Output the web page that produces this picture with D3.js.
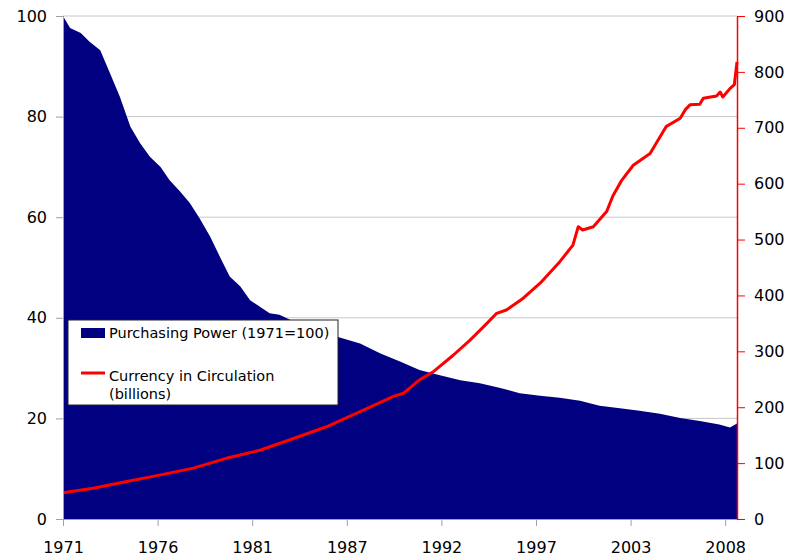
<!DOCTYPE html>
<html>
<head>
<meta charset="utf-8">
<script src="https://cdn.jsdelivr.net/npm/d3@7"></script>
<style>
    body { margin: 0; background: #fff; }
    svg { display: block; font-family: "DejaVu Sans", Verdana, sans-serif; }
</style>
</head>
<body>
<svg id="grafico" width="800" height="560"></svg>
<script>
// poder de compra (1971=100)
const ppAnos = [1971.0, 1971.4, 1972.0, 1972.5, 1973.1, 1973.65, 1974.2, 1974.8, 1975.35, 1975.9,
    1976.5, 1977.0, 1977.6, 1978.15, 1978.7, 1979.3, 1979.85, 1980.4, 1981.0, 1981.55,
    1982.1, 1982.65, 1983.2, 1983.8, 1984.5, 1985.5, 1986.6, 1987.75, 1988.9, 1990.0,
    1991.1, 1992.25, 1993.4, 1994.5, 1995.6, 1996.75, 1997.9, 1999.0, 2000.15, 2001.25,
    2002.4, 2003.5, 2004.65, 2005.8, 2006.9, 2008.0, 2008.6, 2009.0];
const ppValores = [100, 97.6, 96.6, 94.9, 93.2, 88.6, 84.0, 78.0, 74.7, 72.0,
    70.0, 67.4, 65.1, 62.8, 59.8, 56.1, 52.1, 48.2, 46.2, 43.5,
    42.2, 40.9, 40.6, 39.6, 38.4, 37.3, 36.1, 34.9, 32.9, 31.3,
    29.6, 28.6, 27.6, 27.0, 26.1, 25.0, 24.5, 24.1, 23.5, 22.5,
    22.0, 21.5, 20.9, 20.1, 19.5, 18.8, 18.2, 19.0];

// moeda em circulacao (bilhoes)
const moedaAnos = [1971.0, 1972.7, 1974.6, 1976.5, 1978.35, 1980.25, 1982.1, 1984.0, 1985.85, 1987.75,
    1989.6, 1990.2, 1991.1, 1991.9, 1993.0, 1993.95, 1994.9, 1995.45, 1996.0, 1996.95,
    1997.9, 1999.0, 1999.75, 2000.05, 2000.3, 2000.9, 2001.65, 2002.0, 2002.5, 2003.15,
    2004.1, 2005.0, 2005.8, 2006.1, 2006.35, 2006.9, 2007.1, 2007.85, 2008.05, 2008.2,
    2008.6, 2008.85, 2009.0];
const moedaValores = [47, 55, 67, 79, 91, 109, 123, 144, 165, 192,
    219, 225, 249, 264, 293, 320, 350, 368, 374, 395,
    422, 460, 490, 523, 517, 523, 550, 578, 606, 633,
    654, 702, 717, 733, 741, 742, 753, 757, 764, 755,
    770, 777, 818];

const anosRotulos = ["1971", "1976", "1981", "1987", "1992", "1997", "2003", "2008"];
const ticksEsquerda = [0, 20, 40, 60, 80, 100];
const ticksDireita = [0, 100, 200, 300, 400, 500, 600, 700, 800, 900];
const legendaItens = ["Purchasing Power (1971=100)", "Currency in Circulation", "(billions)"];

const margin = { top: 16, right: 63, bottom: 41, left: 63 };
const width = 800 - margin.left - margin.right,
    height = 560 - margin.top - margin.bottom;

const svg = d3.select("#grafico");
const g = svg.append("g").attr("transform", `translate(${margin.left},${margin.top})`);

const x = d3.scaleLinear().domain([1971, 2009]).range([0, width]);
const yEsq = d3.scaleLinear().domain([0, 100]).range([height, 0]);
const yDir = d3.scaleLinear().domain([0, 900]).range([height, 0]);

// eixo de categorias do excel: rotulo a cada 64 meses
const xTicks = anosRotulos.map((d, i) => 1971 + i * 64 / 12);

// grade
g.append("g")
    .selectAll("line")
    .data(ticksEsquerda.filter(d => d > 0))
    .enter()
    .append("line")
    .attr("x1", 0).attr("x2", width)
    .attr("y1", d => yEsq(d)).attr("y2", d => yEsq(d))
    .attr("stroke", "#c8c8c8");

const pp = ppAnos.map((a, i) => ({ ano: a, v: ppValores[i] }));
const moeda = moedaAnos.map((a, i) => ({ ano: a, v: moedaValores[i] }));

g.append("path")
    .datum(pp)
    .attr("fill", "#000080")
    .attr("d", d3.area().x(d => x(d.ano)).y0(height).y1(d => yEsq(d.v)));

g.append("path")
    .datum(moeda)
    .attr("fill", "none")
    .attr("stroke", "#ff0000")
    .attr("stroke-width", 3)
    .attr("stroke-linejoin", "round")
    .attr("d", d3.line().x(d => x(d.ano)).y(d => yDir(d.v)));

// eixos
const eixoX = g.append("g")
    .attr("transform", `translate(0,${height})`)
    .call(d3.axisBottom(x).tickValues(xTicks).tickFormat((d, i) => anosRotulos[i])
        .tickSize(7).tickSizeOuter(0).tickPadding(16));
eixoX.select(".domain").attr("stroke", "#a0a0a0");
eixoX.selectAll(".tick line").attr("stroke", "#a0a0a0");

const eixoEsq = g.append("g")
    .call(d3.axisLeft(yEsq).tickValues(ticksEsquerda).tickSize(7).tickSizeOuter(0).tickPadding(9));
eixoEsq.select(".domain").attr("stroke", "#a0a0a0");
eixoEsq.selectAll(".tick line").attr("stroke", "#a0a0a0");

const eixoDir = g.append("g")
    .attr("transform", `translate(${width},0)`)
    .call(d3.axisRight(yDir).tickValues(ticksDireita).tickSize(8).tickSizeOuter(0).tickPadding(9));
eixoDir.select(".domain").attr("stroke", "#ff0000").attr("stroke-width", 1.5);
eixoDir.selectAll(".tick line").attr("stroke", "#ff0000");

svg.selectAll(".tick text")
    .attr("font-family", '"DejaVu Sans", Verdana, sans-serif')
    .attr("font-size", 16)
    .attr("fill", "#000");

// legenda
const leg = svg.append("g").attr("transform", "translate(68,320)");
leg.append("rect")
    .attr("width", 270).attr("height", 85)
    .attr("fill", "#fff").attr("stroke", "#222");
leg.append("rect")
    .attr("x", 13).attr("y", 8).attr("width", 24).attr("height", 10)
    .attr("fill", "#000080");
leg.append("line")
    .attr("x1", 13).attr("x2", 37).attr("y1", 53).attr("y2", 53)
    .attr("stroke", "#ff0000").attr("stroke-width", 3);
leg.selectAll("text.item")
    .data(legendaItens)
    .enter()
    .append("text")
    .attr("class", "item")
    .attr("x", 41)
    .attr("y", (d, i) => [18, 61, 79][i])
    .attr("font-size", 14.5)
    .attr("fill", "#000")
    .text(d => d);
</script>
</body>
</html>
